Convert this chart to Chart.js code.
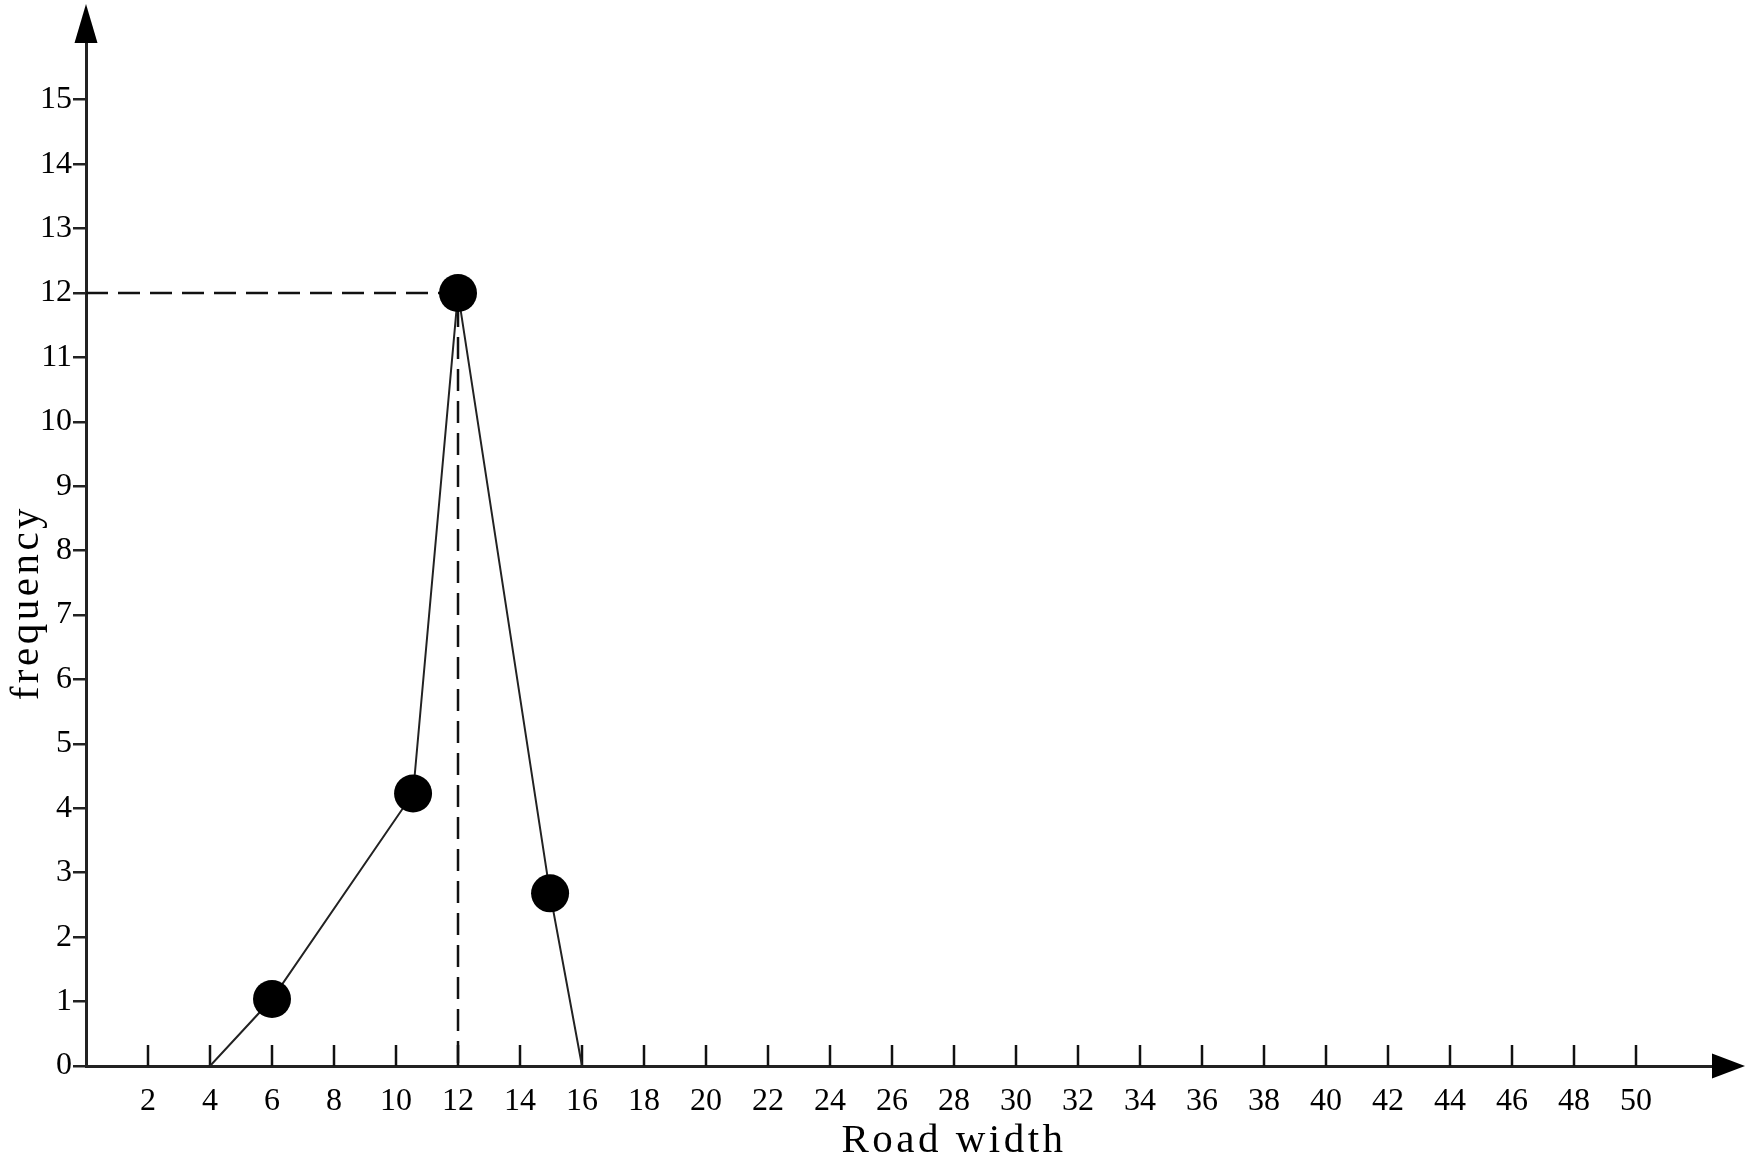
<!DOCTYPE html>
<html>
<head>
<meta charset="utf-8">
<script src="https://cdn.jsdelivr.net/npm/chart.js@4/dist/chart.umd.min.js"></script>
<style>
  html, body { margin: 0; padding: 0; background: #ffffff; }
  #wrap { width: 1759px; height: 1175px; }
</style>
</head>
<body>
<div id="wrap"><canvas id="c" width="1759" height="1175"></canvas></div>
<script>
// ---- data ----
const roadWidth   = [4, 6, 10.55, 12, 14.97, 16];
const frequency   = [0, 1.04, 4.23, 12, 2.68, 0];
const markerShown = [false, true, true, true, true, false];
const peakGuideX  = [0, 12, 12];
const peakGuideY  = [12, 12, 0];
const xTickValues = [2, 4, 6, 8, 10, 12, 14, 16, 18, 20, 22, 24, 26, 28, 30, 32, 34, 36, 38, 40, 42, 44, 46, 48, 50];
const yTickValues = [0, 1, 2, 3, 4, 5, 6, 7, 8, 9, 10, 11, 12, 13, 14, 15];
const xTitle = 'Road width';
const yTitle = 'frequency';
const xMax = 52.45;
const yMax = 15.88;

const mainPoints  = roadWidth.map((x, i) => ({ x: x, y: frequency[i] }));
const guidePoints = peakGuideX.map((x, i) => ({ x: x, y: peakGuideY[i] }));

const axisDecor = {
  id: 'axisDecor',
  beforeDraw(chart) { chart.ctx.letterSpacing = '3.5px'; },
  beforeDatasetsDraw(chart) {
    const ctx = chart.ctx;
    ctx.letterSpacing = '0px';
    const xs = chart.scales.x;
    const y0 = chart.chartArea.bottom;
    ctx.save();
    ctx.strokeStyle = '#111';
    ctx.lineWidth = 2.5;
    xTickValues.forEach(v => {
      const px = Math.round(xs.getPixelForValue(v));
      ctx.beginPath();
      ctx.moveTo(px, y0);
      ctx.lineTo(px, y0 - 21);
      ctx.stroke();
    });
    ctx.restore();
  },
  afterDraw(chart) {
    const ctx = chart.ctx;
    const a = chart.chartArea;
    ctx.save();
    ctx.fillStyle = '#000';
    // y arrow
    ctx.beginPath();
    ctx.moveTo(a.left - 11.5, a.top);
    ctx.lineTo(a.left + 11.5, a.top);
    ctx.lineTo(a.left, a.top - 39);
    ctx.closePath();
    ctx.fill();
    // x arrow
    ctx.beginPath();
    ctx.moveTo(a.right, a.bottom - 12.5);
    ctx.lineTo(a.right, a.bottom + 12.5);
    ctx.lineTo(a.right + 33, a.bottom);
    ctx.closePath();
    ctx.fill();
    ctx.restore();
    ctx.letterSpacing = '0px';
  }
};

new Chart(document.getElementById('c'), {
  type: 'line',
  data: {
    datasets: [
      {
        label: 'frequency',
        data: mainPoints,
        borderColor: '#222',
        borderWidth: 2,
        tension: 0,
        pointRadius: markerShown.map(s => s ? 19 : 0),
        pointBackgroundColor: '#000',
        pointBorderColor: '#000',
        pointBorderWidth: 0,
        fill: false
      },
      {
        label: 'peak',
        data: guidePoints,
        borderColor: '#111',
        borderWidth: 2.5,
        borderDash: [22, 10],
        pointRadius: 0,
        tension: 0,
        fill: false
      }
    ]
  },
  plugins: [axisDecor],
  options: {
    responsive: false,
    animation: false,
    events: [],
    layout: { padding: { top: 43, right: 47, left: 0, bottom: 0 } },
    plugins: { legend: { display: false }, tooltip: { enabled: false } },
    scales: {
      x: {
        type: 'linear',
        min: 0,
        max: xMax,
        afterBuildTicks: s => { s.ticks = xTickValues.map(v => ({ value: v })); },
        afterFit: s => { s.height = 109; },
        grid: { display: false },
        border: { display: true, color: '#222', width: 3 },
        ticks: {
          z: 1,
          autoSkip: false,
          maxRotation: 0,
          padding: 8,
          color: '#000',
          font: { family: 'Liberation Serif', size: 32 }
        },
        title: {
          display: true,
          text: ' '.repeat(8) + xTitle,
          color: '#000',
          font: { family: 'Liberation Serif', size: 41 },
          padding: { top: 0, bottom: 9 }
        }
      },
      y: {
        type: 'linear',
        min: 0,
        max: yMax,
        afterBuildTicks: s => { s.ticks = yTickValues.map(v => ({ value: v })); },
        afterFit: s => { s.width = 86; },
        grid: { drawOnChartArea: false, drawTicks: true, tickLength: 13, color: '#222', lineWidth: 2.5 },
        border: { display: true, color: '#222', width: 3 },
        ticks: {
          z: 1,
          autoSkip: false,
          padding: 1,
          color: '#000',
          font: { family: 'Liberation Serif', size: 32 }
        },
        title: {
          display: true,
          text: yTitle + ' '.repeat(7),
          color: '#000',
          font: { family: 'Liberation Serif', size: 41 },
          padding: { top: 3, bottom: 0 }
        }
      }
    }
  }
});
</script>
</body>
</html>
